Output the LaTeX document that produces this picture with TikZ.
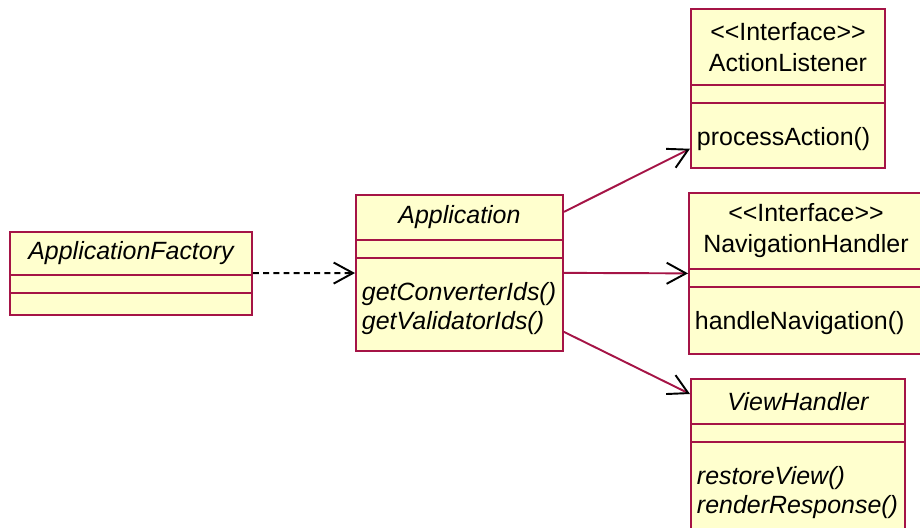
\documentclass[tikz,border=0pt]{standalone}
\usepackage{fontspec}
\setmainfont{Liberation Sans}
\usetikzlibrary{shapes.multipart,arrows.meta}

\definecolor{umlred}{RGB}{165,20,70}
\definecolor{umlfill}{RGB}{255,255,206}

% compartments of a class box: width, height, text
\newcommand{\namepart}[3]{\parbox[c][#2][c]{#1}{\centering\fontsize{14.2pt}{17.7pt}\selectfont #3}}
\newcommand{\emptypart}[2]{\parbox[c][#2]{#1}{}}
\newcommand{\oppart}[3]{\parbox[c][#2][t]{#1}{\raggedright\leftskip=1.2mm\vspace*{4.3mm}\strut #3}}
\newcommand{\stereo}{<\kern0pt<Interface>\kern0pt>}

\begin{document}
\begin{tikzpicture}[
      x=0.2mm, y=-0.2mm,
      umlclass/.style={
        draw=umlred,
        fill=umlfill,
        line width=1.1pt,
        rectangle split,
        rectangle split parts=3,
        inner sep=0pt,
        anchor=north west,
        font=\fontsize{14.2pt}{16.5pt}\selectfont
      },
      assoc/.style={
        draw=umlred,
        line width=1.1pt,
        -{Straight Barb[length=11pt,width=12pt,color=black]}
      },
      dep/.style={
        draw=black,
        line width=1.1pt,
        dash pattern=on 3.4pt off 2.4pt,
        -{Straight Barb[length=11pt,width=12pt]}
      }
    ]
    \useasboundingbox (0,0) rectangle (920,527);
    %% Classes
    \node[umlclass] (factory) at (9,231) {%
      \namepart{48.4mm}{8.2mm}{\itshape ApplicationFactory}%
      \nodepart{two}\emptypart{48.4mm}{3.2mm}%
      \nodepart{three}\emptypart{48.4mm}{4mm}};
    \node[umlclass] (app) at (355,194) {%
      \namepart{41.4mm}{8.6mm}{\itshape Application}%
      \nodepart{two}\emptypart{41.4mm}{3.2mm}%
      \nodepart{three}\oppart{41.4mm}{18.2mm}{\itshape getConverterIds()\\getValidatorIds()}};
    %% Interfaces
    \node[umlclass] (listener) at (690,8) {%
      \namepart{38.8mm}{14.8mm}{\stereo\\ActionListener}%
      \nodepart{two}\emptypart{38.8mm}{3.2mm}%
      \nodepart{three}\oppart{38.8mm}{12.6mm}{processAction()}};
    \node[umlclass] (navigation) at (688,192) {%
      \namepart{46.8mm}{14.8mm}{\stereo\\NavigationHandler}%
      \nodepart{two}\emptypart{46.8mm}{3.2mm}%
      \nodepart{three}\oppart{46.8mm}{13mm}{handleNavigation()}};
    \node[umlclass] (view) at (690,378) {%
      \namepart{42.8mm}{8.6mm}{\itshape ViewHandler}%
      \nodepart{two}\emptypart{42.8mm}{3.2mm}%
      \nodepart{three}\oppart{42.8mm}{19mm}{\itshape restoreView()\\renderResponse()}};
    %% Connectors
    \draw[dep] (factory) -- (app);
    \draw[assoc] ([yshift=12.2mm]app.east) -- ([yshift=4mm]listener.south west);
    \draw[assoc] (app.east) -- (navigation.west);
    \draw[assoc] ([yshift=-11.8mm]app.east) -- ([yshift=-3.2mm]view.north west);
  \end{tikzpicture}
\end{document}
